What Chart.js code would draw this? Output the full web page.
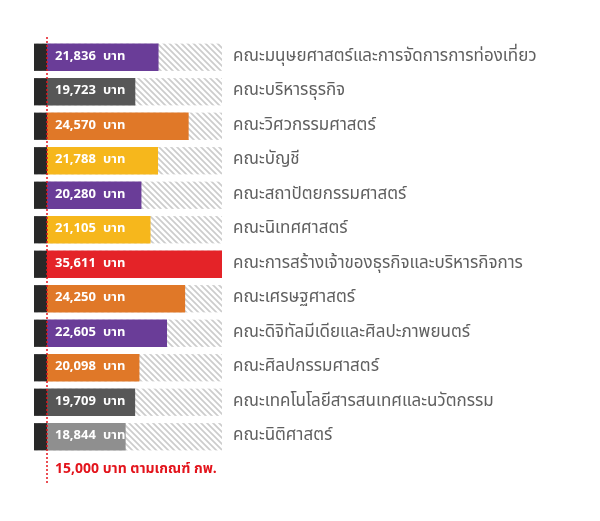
<!DOCTYPE html>
<html>
<head>
<meta charset="utf-8">
<script src="https://cdn.jsdelivr.net/npm/chart.js@4.4.1/dist/chart.umd.min.js"></script>
<style>
  html, body { margin: 0; background: #fff; }
  #wrap { width: 600px; height: 521px; }
</style>
</head>
<body>
<div id="wrap"><canvas id="salary"></canvas></div>
<script>
// Starting salary by faculty vs. the 15,000 baht civil-service baseline.
const faculties = [
  "คณะมนุษยศาสตร์และการจัดการการท่องเที่ยว",
  "คณะบริหารธุรกิจ",
  "คณะวิศวกรรมศาสตร์",
  "คณะบัญชี",
  "คณะสถาปัตยกรรมศาสตร์",
  "คณะนิเทศศาสตร์",
  "คณะการสร้างเจ้าของธุรกิจและบริหารกิจการ",
  "คณะเศรษฐศาสตร์",
  "คณะดิจิทัลมีเดียและศิลปะภาพยนตร์",
  "คณะศิลปกรรมศาสตร์",
  "คณะเทคโนโลยีสารสนเทศและนวัตกรรม",
  "คณะนิติศาสตร์",
];
const salaries = [21836, 19723, 24570, 21788, 20280, 21105, 35611, 24250, 22605, 20098, 19709, 18844];
const barColors = [
  "#6a3d98", "#575757", "#e07828", "#f6b71c", "#6a3d98", "#f6b71c",
  "#e42328", "#e07828", "#6a3d98", "#e07828", "#575757", "#8f8f8f",
];
const THRESHOLD = 15000;
const thresholdLabel = "15,000 บาท ตามเกณฑ์ กพ.";
const unit = "บาท";

const FONT = '"Noto Sans Thai", "Noto Sans", sans-serif';

// light diagonal hatch used behind every bar
function hatchPattern(ctx) {
  const tile = document.createElement("canvas");
  tile.width = 6;
  tile.height = 6;
  const t = tile.getContext("2d");
  t.strokeStyle = "#cccccc";
  t.lineWidth = 1.7;
  t.beginPath();
  t.moveTo(-1, -1); t.lineTo(7, 7);
  t.moveTo(-1, 5); t.lineTo(1, 7);
  t.moveTo(5, -1); t.lineTo(7, 1);
  t.stroke();
  return ctx.createPattern(tile, "repeat");
}

const hatchBands = {
  id: "hatchBands",
  beforeDatasetsDraw(chart) {
    const { ctx, chartArea } = chart;
    const bars = chart.getDatasetMeta(1).data;
    ctx.save();
    ctx.fillStyle = hatchPattern(ctx);
    bars.forEach((bar) => {
      ctx.fillRect(chartArea.left, bar.y - bar.height / 2, chartArea.right - chartArea.left, bar.height);
    });
    ctx.restore();
  },
};

const valueLabels = {
  id: "valueLabels",
  afterDatasetsDraw(chart) {
    const { ctx, scales } = chart;
    const bars = chart.getDatasetMeta(1).data;
    const x0 = scales.x.left + 8;
    ctx.save();
    ctx.fillStyle = "#fff";
    ctx.textBaseline = "middle";
    ctx.font = "bold 13px " + FONT;
    bars.forEach((bar, i) => {
      ctx.fillText(salaries[i].toLocaleString("en-US"), x0, bar.y);
      ctx.fillText(unit, x0 + 48, bar.y);
    });
    ctx.restore();
  },
};

const thresholdLine = {
  id: "thresholdLine",
  afterDatasetsDraw(chart) {
    const { ctx, chartArea, scales } = chart;
    const x = scales.xb.getPixelForValue(THRESHOLD);
    ctx.save();
    ctx.strokeStyle = "#e3141c";
    ctx.lineWidth = 1.5;
    ctx.setLineDash([2, 2]);
    ctx.beginPath();
    ctx.moveTo(x, chartArea.top - 3);
    ctx.lineTo(x, chartArea.bottom + 30);
    ctx.stroke();
    ctx.fillStyle = "#e3141c";
    ctx.font = "bold 14px " + FONT;
    ctx.textBaseline = "middle";
    ctx.fillText(thresholdLabel, x + 8, chartArea.bottom + 16);
    ctx.restore();
  },
};

new Chart(document.getElementById("salary"), {
  type: "bar",
  data: {
    labels: faculties,
    datasets: [
      {
        label: "เกณฑ์ กพ.",
        data: faculties.map(() => THRESHOLD),
        xAxisID: "xb",
        backgroundColor: "#282828",
      },
      {
        label: "เงินเดือนเฉลี่ย",
        data: salaries,
        xAxisID: "x",
        backgroundColor: barColors,
      },
    ],
  },
  options: {
    indexAxis: "y",
    responsive: true,
    maintainAspectRatio: false,
    animation: false,
    datasets: { bar: { grouped: false, categoryPercentage: 1, barPercentage: 0.79 } },
    layout: { padding: { left: 34, top: 40, bottom: 67, right: 0 } },
    scales: {
      // broken axis: a narrow 0-15,000 base block, then the salary range
      xb: { axis: "x", type: "linear", position: "bottom", stack: "pay", stackWeight: 13, min: 0, max: THRESHOLD, display: false },
      x: { axis: "x", type: "linear", position: "bottom", stack: "pay", stackWeight: 175, min: 11700, max: 27600, display: false },
      y: {
        position: "right",
        grid: { display: false, drawTicks: false },
        border: { display: false },
        ticks: { color: "#5f5f5f", padding: 11, font: { family: FONT, size: 17 } },
        afterFit: (s) => { s.width = 378; },
      },
    },
    plugins: { legend: { display: false }, tooltip: { enabled: false } },
  },
  plugins: [hatchBands, valueLabels, thresholdLine],
});
</script>
</body>
</html>
